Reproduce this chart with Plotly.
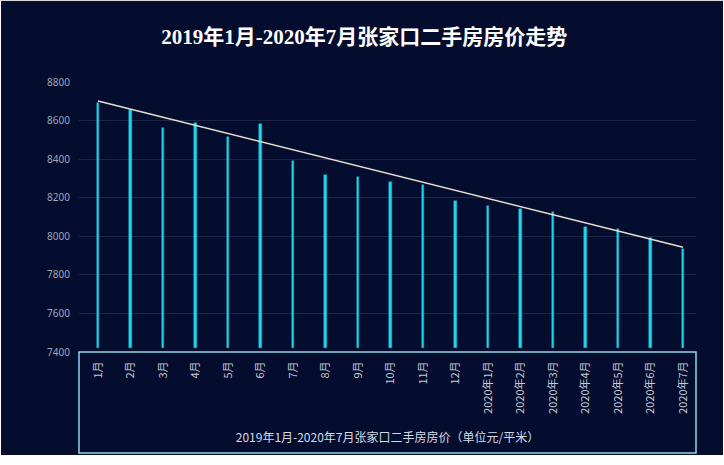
import plotly.graph_objects as go

categories = ["1月", "2月", "3月", "4月", "5月", "6月", "7月", "8月", "9月", "10月",
              "11月", "12月", "2020年1月", "2020年2月", "2020年3月", "2020年4月",
              "2020年5月", "2020年6月", "2020年7月"]
prices = [8693, 8655, 8563, 8589, 8513, 8582, 8390, 8316, 8306, 8281,
          8268, 8181, 8157, 8140, 8124, 8048, 8036, 7993, 7933]
bar_base = 7422
trend_categories = ["1月", "2020年7月"]
trend_values = [8701, 7943]
y_ticks = [7400, 7600, 7800, 8000, 8200, 8400, 8600, 8800]

NAVY = "#040d2e"
W, H = 724, 465
L, R, T, B = 79, 28, 82, 113
pw = W - L - R
ph = H - T - B


def px_x(p):
    return (p - L) / pw


def px_y(p):
    return (H - B - p) / ph


fig = go.Figure()
fig.add_trace(go.Bar(
    x=categories,
    y=[v - bar_base for v in prices],
    base=bar_base,
    width=0.09,
    marker=dict(color="#22d6ec", line=dict(color="#1aa9c2", width=0.5)),
    showlegend=False,
))
fig.add_trace(go.Scatter(
    x=trend_categories, y=trend_values, mode="lines",
    line=dict(color="#e8dccf", width=1.5), showlegend=False,
))

fig.update_layout(
    width=W, height=H,
    margin=dict(l=L, r=R, t=T, b=B, autoexpand=False),
    paper_bgcolor="#ffffff",
    plot_bgcolor="rgba(0,0,0,0)",
    title=dict(
        text="<b>2019年1月-2020年7月张家口二手房房价走势</b>",
        x=0.503, xanchor="center", y=1 - 37 / H, yanchor="middle",
        font=dict(family="Liberation Serif, Noto Sans CJK SC", size=21, color="#ffffff"),
    ),
    xaxis=dict(
        type="category", range=[-0.585, 18.4],
        tickangle=-90, showgrid=False, zeroline=False, showline=False,
        ticks="outside", ticklen=4, tickcolor="rgba(0,0,0,0)",
        tickfont=dict(family="Noto Sans CJK SC", size=11, color="#c4cad6"),
        title=dict(text="2019年1月-2020年7月张家口二手房房价（单位元/平米）",
                   font=dict(family="Noto Sans CJK SC", size=12, color="#d4dae4"),
                   standoff=20),
        automargin=False,
    ),
    yaxis=dict(
        range=[7400, 8800], tickvals=y_ticks,
        showgrid=True, gridcolor="#1b2647", gridwidth=1,
        zeroline=False, showline=False,
        ticks="outside", ticklen=6, tickcolor="rgba(0,0,0,0)",
        tickfont=dict(family="Noto Sans", size=10, color="#9ea5b5"),
        automargin=False,
    ),
    bargap=0,
    shapes=[
        dict(type="rect", xref="paper", yref="paper", layer="below",
             x0=px_x(1), x1=px_x(723), y0=px_y(455), y1=px_y(1),
             fillcolor=NAVY, line=dict(width=0)),
        dict(type="line", xref="paper", yref="paper", layer="below",
             x0=px_x(0), x1=px_x(724), y0=px_y(0.5), y1=px_y(0.5),
             line=dict(color="#d8d8d8", width=1)),
        dict(type="rect", xref="paper", yref="paper", layer="above",
             x0=0, x1=1, y0=px_y(453), y1=0,
             line=dict(color="#8ed8ea", width=1.5), fillcolor="rgba(0,0,0,0)"),
    ],
)

fig.write_html("out.html", config={"displayModeBar": False},
               post_script="document.body.style.margin='0';document.body.style.overflow='hidden';")
